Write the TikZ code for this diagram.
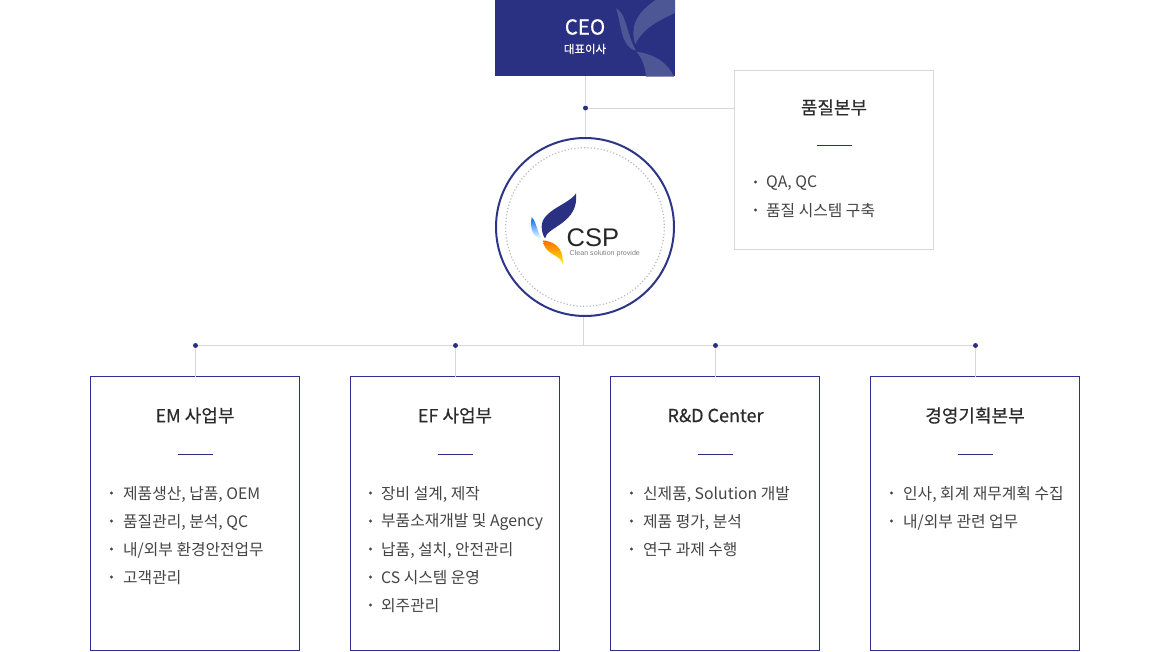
\documentclass[tikz,border=0pt]{standalone}
\usepackage{fontspec}
\usetikzlibrary{calc}
\setmainfont{Noto Sans CJK KR}
\newfontfamily\headfont[FakeBold=0.35]{Noto Sans CJK KR}
\newfontfamily\csplogo{Liberation Sans}
\definecolor{navy}{HTML}{2A3182}
\definecolor{ring}{HTML}{2E3587}
\definecolor{conn}{HTML}{D8D8D8}
\definecolor{boxline}{HTML}{2A3190}
\definecolor{ink}{HTML}{444444}
\definecolor{head}{HTML}{2B2B2B}
\definecolor{petal}{HTML}{4E5796}
\tikzset{
 x=1pt,y=-1pt,
 unit/.style={draw=boxline,line width=1pt,fill=white,minimum width=209pt,minimum height=274pt,anchor=north west,inner sep=0pt,outer sep=0pt},
 qbox/.style={draw=conn,line width=1pt,fill=white,minimum width=199pt,minimum height=179pt,anchor=north west,inner sep=0pt,outer sep=0pt},
 conline/.style={draw=conn,line width=1pt},
 junction/.style={circle,fill=navy,inner sep=0pt,minimum size=5pt,outer sep=0pt},
 headtxt/.style={text=head,font=\headfont\fontsize{18}{20}\selectfont,inner sep=0pt,anchor=center},
 itemtxt/.style={text=ink,font=\fontsize{15.8}{18}\selectfont,inner sep=0pt,anchor=west},
 bullet/.style={circle,fill=ink,inner sep=0pt,minimum size=3.4pt},
 shortrule/.style={draw=navy,line width=1pt},
}
\newcommand{\uitem}[4]{% bullet x, text x, y, text
 \node[bullet] at (#1,#3) {};
 \node[itemtxt] at (#2,#3+1) {#4};
}
\begin{document}
\begin{tikzpicture}
\useasboundingbox (0,0) rectangle (1170,651);
% junctions
\node[junction] (jtop) at (585.5,108) {};
\node[junction] (j1) at (195.5,345.5) {};
\node[junction] (j2) at (455.5,345.5) {};
\node[junction] (j3) at (715.5,345.5) {};
\node[junction] (j4) at (975.5,345.5) {};
\coordinate (jmid) at (583.5,345.5);
% boxes
\node[draw=none,fill=navy,minimum width=180pt,minimum height=76pt,anchor=north west,inner sep=0pt,outer sep=0pt] (ceo) at (495,0) {};
\node[qbox] (q) at (734.5,70.5) {};
\node[unit] (b1) at (90.5,376.5) {};
\node[unit] (b2) at (350.5,376.5) {};
\node[unit] (b3) at (610.5,376.5) {};
\node[unit] (b4) at (870.5,376.5) {};
\node[circle,draw=ring,line width=2pt,fill=white,minimum size=178pt,inner sep=0pt] (hub) at (585,227) {};
% connectors
\draw[conline] (ceo.south -| jtop) -- (jtop);
\draw[conline] (jtop) -- (hub.north -| jtop);
\draw[conline] (jtop) -- (q.west |- jtop);
\draw[conline] (j1) -- (j2);
\draw[conline] (j2) -- (j3);
\draw[conline] (j3) -- (j4);
\draw[conline] (hub.south -| jmid) -- (jmid);
\draw[conline] (j1) -- (b1.north -| j1);
\draw[conline] (j2) -- (b2.north -| j2);
\draw[conline] (j3) -- (b3.north -| j3);
\draw[conline] (j4) -- (b4.north -| j4);
% CEO decoration
\begin{scope}
\clip (495,0) rectangle (675,76);
\begin{scope}[shift={(480,0)},scale=1/3]
\fill[petal] (408,25) .. controls (440,40) and (440,105) .. (468,152) .. controls (420,140) and (425,70) .. (408,25) -- cycle;
\fill[petal] (470,155) .. controls (535,165) and (565,195) .. (582,230) -- (498,230) .. controls (495,195) and (485,175) .. (470,155) -- cycle;
\fill[petal] (530,-2) -- (586,-2) -- (586,38) .. controls (530,65) and (490,85) .. (466,132) .. controls (450,85) and (465,40) .. (530,-2) -- cycle;
\end{scope}
\end{scope}
\node[text=white,font=\headfont\fontsize{20.5}{22}\selectfont,inner sep=0pt] (ceot) at (585,27) {CEO};
\node[text=white,font=\headfont\fontsize{11.5}{13}\selectfont,inner sep=0pt] (ceos) at (585,49) {대표이사};
% hub contents
\draw[draw=black!28,line width=1.2pt,dash pattern=on 1.1pt off 2.2pt] (hub.center) circle[radius=79.3];
\begin{scope}[shift={(490,130)},scale=1/3]
\fill[navy] (258,190) .. controls (235,225) and (155,240) .. (155,290) .. controls (155,305) and (160,318) .. (165,325) .. controls (170,290) and (268,280) .. (258,190) -- cycle;
\shade[top color=orange!85!red,bottom color=yellow!85!orange] (160,331) .. controls (190,335) and (222,350) .. (218,402) .. controls (212,372) and (160,375) .. (160,331) -- cycle;
\shade[top color=blue!60!cyan,bottom color=cyan!6] (125,262) .. controls (140,275) and (140,305) .. (155,325) .. controls (130,325) and (118,295) .. (125,262) -- cycle;
\end{scope}
\node[text=black!85,font=\csplogo\fontsize{25.5}{28}\selectfont,inner sep=0pt,anchor=west] (csp) at (566.5,237.5) {CSP};
\node[text=black!50,font=\csplogo\fontsize{7.1}{8}\selectfont,inner sep=0pt,anchor=west] (csps) at (569.5,254) {Clean solution provide};
% quality
\node[headtxt] (qh) at (834,107.5) {품질본부};
\draw[shortrule] (817,145.5) -- (852,145.5);
\uitem{755.5}{766}{182}{QA, QC}
\uitem{755.5}{766}{210}{품질 시스템 구축}
% unit 1
\node[headtxt] (h1) at (195,415.5) {EM 사업부};
\draw[shortrule] (178,454.5) -- (213,454.5);
\uitem{111.5}{123}{493}{제품생산, 납품, OEM}
\uitem{111.5}{123}{521}{품질관리, 분석, QC}
\uitem{111.5}{123}{549}{내/외부 환경안전업무}
\uitem{111.5}{123}{577}{고객관리}
% unit 2
\node[headtxt] (h2) at (455,415.5) {EF 사업부};
\draw[shortrule] (438,454.5) -- (473,454.5);
\uitem{370.5}{381}{493}{장비 설계, 제작}
\uitem{370.5}{381}{521}{부품소재개발 및 Agency}
\uitem{370.5}{381}{549}{납품, 설치, 안전관리}
\uitem{370.5}{381}{577}{CS 시스템 운영}
\uitem{370.5}{381}{605}{외주관리}
% unit 3
\node[headtxt] (h3) at (715.5,415.5) {R\&D Center};
\draw[shortrule] (698,454.5) -- (733,454.5);
\uitem{631.5}{643}{493}{신제품, Solution 개발}
\uitem{631.5}{643}{521}{제품 평가, 분석}
\uitem{631.5}{643}{549}{연구 과제 수행}
% unit 4
\node[headtxt] (h4) at (975,415.5) {경영기획본부};
\draw[shortrule] (958,454.5) -- (993,454.5);
\uitem{891.5}{903}{493}{인사, 회계 재무계획 수집}
\uitem{891.5}{903}{521}{내/외부 관련 업무}
\end{tikzpicture}
\end{document}
